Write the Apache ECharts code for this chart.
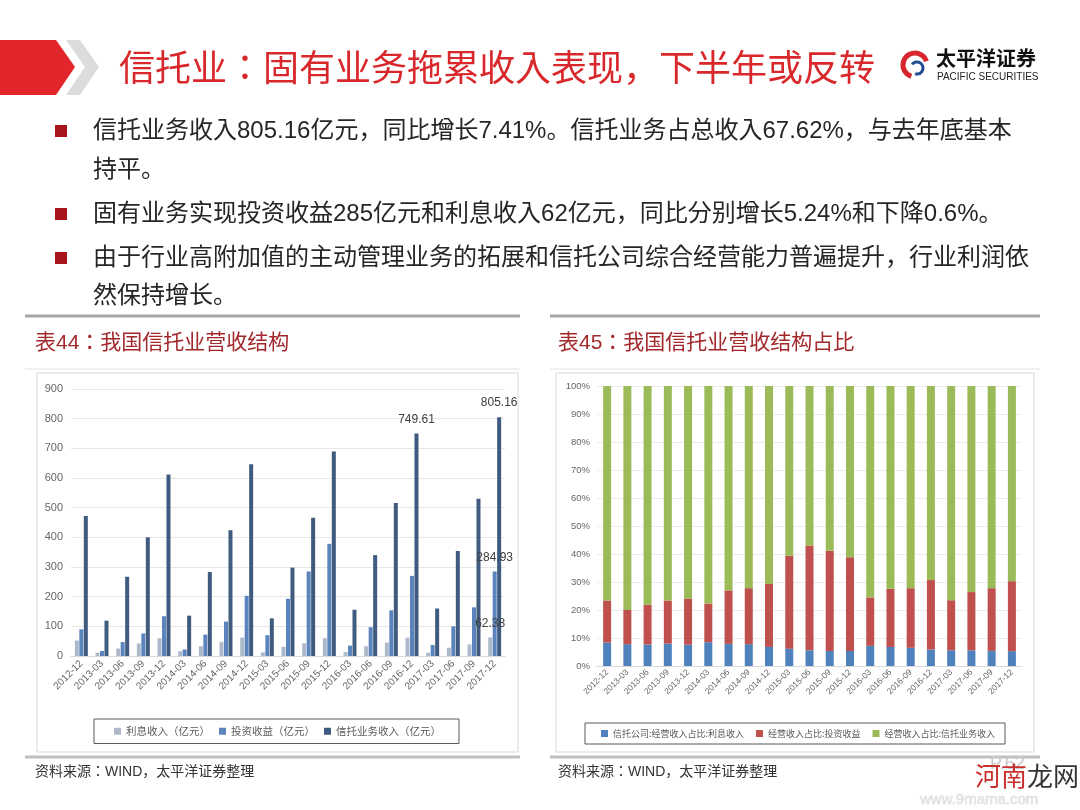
<!DOCTYPE html>
<html><head><meta charset="utf-8">
<script src="https://cdn.jsdelivr.net/npm/echarts@6/dist/echarts.min.js"></script>
<style>html,body{margin:0;padding:0;background:#fff;}#c{width:1080px;height:810px;}</style>
</head><body><div id="c"></div>
<script>
// ---- data ----
var categories = ['2012-12','2013-03','2013-06','2013-09','2013-12','2014-03','2014-06','2014-09','2014-12','2015-03','2015-06','2015-09','2015-12','2016-03','2016-06','2016-09','2016-12','2017-03','2017-06','2017-09','2017-12'];
var interestIncome = [52,11,25,42,60,16,33,48,62,12,31,43,60,13,33,45,62,11,28,39,62.38];
var investIncome = [90,17,47,76,134,22,72,116,203,70,193,285,378,35,97,154,270,37,100,164,284.93];
var trustIncome = [472,119,267,400,612,136,283,424,646,127,298,466,689,156,340,516,749.61,160,354,530,805.16];
var interestPct = [8.4,7.8,7.7,8.0,7.6,8.5,7.9,7.8,6.8,6.2,5.6,5.4,5.4,7.2,6.8,6.5,5.9,5.6,5.6,5.4,5.3];
var investPct = [15.0,12.2,14.2,15.4,16.5,13.8,19.1,20.0,22.5,33.2,37.4,35.8,33.4,17.3,20.8,21.3,24.8,17.9,20.8,22.4,25.0];
var trustPct = [76.6,80.0,78.1,76.6,75.9,77.7,73.0,72.2,70.7,60.6,57.0,58.8,61.2,75.5,72.4,72.2,69.3,76.5,73.6,72.2,69.7];
var labeledTrust = ['2016-12','2017-12'];
var labeledOther = ['2017-12'];
var leftNames = ['利息收入（亿元）','投资收益（亿元）','信托业务收入（亿元）'];
var rightNames = ['信托公司:经营收入占比:利息收入','经营收入占比:投资收益','经营收入占比:信托业务收入'];
var titleText = '信托业：固有业务拖累收入表现，下半年或反转';
var bulletLines = [
  ['信托业务收入805.16亿元，同比增长7.41%。信托业务占总收入67.62%，与去年底基本','持平。'],
  ['固有业务实现投资收益285亿元和利息收入62亿元，同比分别增长5.24%和下降0.6%。'],
  ['由于行业高附加值的主动管理业务的拓展和信托公司综合经营能力普遍提升，行业利润依','然保持增长。']
];
var chartTitles = ['表44：我国信托业营收结构','表45：我国信托业营收结构占比'];
var sourceText = '资料来源：WIND，太平洋证券整理';

var FF = "'Liberation Sans','Noto Sans CJK SC',sans-serif";
var CJK = "'Noto Sans CJK SC','Liberation Sans',sans-serif";
var JP = "'Liberation Sans','Noto Sans CJK JP',sans-serif";

function withLabels(arr, cats) {
  return arr.map(function(v, i){
    if (cats.indexOf(categories[i]) >= 0) {
      return {value: v, label: {show: true, position: 'top', distance: 8, color: '#404040', fontSize: 12, fontFamily: FF}};
    }
    return v;
  });
}

// ---- graphics ----
var g = [];
g.push({type:'polygon', shape:{points:[[0,40],[56,40],[75,67],[56,95],[0,95]]}, style:{fill:'#e3262b'}});
g.push({type:'polygon', shape:{points:[[66,40],[80,40],[99,67],[80,95],[66,95],[85,67]]}, style:{fill:'#dcdcdc'}});
g.push({type:'text', style:{text:titleText, x:119, y:67, font:'36px '+"'Noto Sans CJK JP',sans-serif", fill:'#d9282b', textVerticalAlign:'middle'}});
// logo
g.push({type:'arc', shape:{cx:915, cy:65, r:12, startAngle:Math.PI*0.6, endAngle:Math.PI*1.9}, style:{stroke:'#d7262d', lineWidth:5, fill:null}});
g.push({type:'arc', shape:{cx:917, cy:68, r:6, startAngle:Math.PI*1.2, endAngle:Math.PI*2.6}, style:{stroke:'#1e4b8f', lineWidth:3, fill:null}});
g.push({type:'text', style:{text:'太平洋证券', x:936, y:58, font:'bold 20px '+CJK, fill:'#111', textVerticalAlign:'middle'}});
g.push({type:'text', style:{text:'PACIFIC SECURITIES', x:937, y:77, font:'10px '+FF, fill:'#222', textVerticalAlign:'middle'}});
// bullets
var lineY = [[131,170],[214],[258,296]];
bulletLines.forEach(function(lines, bi){
  g.push({type:'rect', shape:{x:55, y:lineY[bi][0]-6, width:12, height:12}, style:{fill:'#a8151b'}});
  lines.forEach(function(t, li){
    g.push({type:'text', style:{text:t, x:93, y:lineY[bi][li], font:'24px '+JP, fill:'#262626', textVerticalAlign:'middle'}});
  });
});
// chart sections
var secs = [{x0:25,x1:520,tx:35,fx0:37,fx1:518},{x0:550,x1:1040,tx:558,fx0:556,fx1:1034}];
secs.forEach(function(s, i){
  g.push({type:'line', shape:{x1:s.x0,y1:316,x2:s.x1,y2:316}, style:{stroke:'#a6a6a6', lineWidth:3}});
  g.push({type:'line', shape:{x1:s.x0,y1:369,x2:s.x1,y2:369}, style:{stroke:'#e2e2e2', lineWidth:1}});
  g.push({type:'text', style:{text:chartTitles[i], x:s.tx, y:343, font:'21px '+JP, fill:'#a3282c', textVerticalAlign:'middle'}});
  g.push({type:'rect', z:-1, shape:{x:s.fx0, y:373, width:s.fx1-s.fx0, height:379}, style:{fill:'#fff', stroke:'#d9d9d9', lineWidth:1}});
  g.push({type:'line', shape:{x1:s.x0,y1:757,x2:s.x1,y2:757}, style:{stroke:'#bfbfbf', lineWidth:3}});
  g.push({type:'text', style:{text:sourceText, x:s.tx, y:772, font:'14px '+JP, fill:'#333', textVerticalAlign:'middle'}});
});
// page number & watermark
g.push({type:'text', style:{text:'P.62', x:990, y:764, font:'18px '+FF, fill:'#c8c8c8', textVerticalAlign:'middle'}});
g.push({type:'text', style:{text:'河南', x:975, y:776, font:'26px '+CJK, fill:'#c9302c', textVerticalAlign:'middle'}});
g.push({type:'text', style:{text:'龙网', x:1027, y:776, font:'26px '+CJK, fill:'#333', textVerticalAlign:'middle'}});
g.push({type:'text', style:{text:'www.9mama.com', x:920, y:800, font:'15px '+FF, fill:'#e6e6e6', stroke:'#cfcfcf', lineWidth:0.5, textVerticalAlign:'middle'}});

var chart = echarts.init(document.getElementById('c'), null, {renderer:'canvas'});
chart.setOption({
  animation:false,
  backgroundColor:'#fff',
  graphic:{elements:g},
  grid:[
    {left:71, right:575, top:389, bottom:154},
    {left:597, right:58, top:386, bottom:144}
  ],
  legend:[
    {data:leftNames, left:94, top:719, orient:'horizontal', borderColor:'#595959', borderWidth:1,
     padding:[7,18,7,20], itemGap:9, itemWidth:7, itemHeight:7, icon:'rect',
     textStyle:{fontSize:10.5, color:'#595959', fontFamily:CJK}},
    {data:rightNames, left:585, top:723, orient:'horizontal', borderColor:'#595959', borderWidth:1,
     padding:[6,10,6,16], itemGap:12, itemWidth:7, itemHeight:7, icon:'rect',
     textStyle:{fontSize:9, color:'#595959', fontFamily:CJK}}
  ],
  xAxis:[
    {type:'category', gridIndex:0, data:categories, axisTick:{show:false},
     axisLine:{lineStyle:{color:'#d9d9d9'}}, axisLabel:{rotate:45, interval:0, color:'#666', fontSize:10, fontFamily:FF, margin:6}},
    {type:'category', gridIndex:1, data:categories, axisTick:{show:false},
     axisLine:{lineStyle:{color:'#d9d9d9'}}, axisLabel:{rotate:45, interval:0, color:'#666', fontSize:8.5, fontFamily:FF, margin:5}}
  ],
  yAxis:[
    {type:'value', gridIndex:0, min:0, max:900, interval:100, axisLine:{show:false}, axisTick:{show:false},
     splitLine:{lineStyle:{color:'#e6e6e6'}}, axisLabel:{color:'#666', fontSize:11, fontFamily:FF}},
    {type:'value', gridIndex:1, min:0, max:100, interval:10, axisLine:{show:false}, axisTick:{show:false},
     splitLine:{lineStyle:{color:'#ececec'}}, axisLabel:{color:'#666', fontSize:9.5, fontFamily:FF, formatter:'{value}%', margin:7}}
  ],
  series:[
    {name:leftNames[0], type:'bar', xAxisIndex:0, yAxisIndex:0, barWidth:4, barGap:'12%', itemStyle:{color:'#adb9cb'}, data:withLabels(interestIncome, labeledOther)},
    {name:leftNames[1], type:'bar', xAxisIndex:0, yAxisIndex:0, barWidth:4, barGap:'12%', itemStyle:{color:'#5b84bd'}, data:withLabels(investIncome, labeledOther)},
    {name:leftNames[2], type:'bar', xAxisIndex:0, yAxisIndex:0, barWidth:4, barGap:'12%', itemStyle:{color:'#3f5b7f'}, data:withLabels(trustIncome, labeledTrust)},
    {name:rightNames[0], type:'bar', stack:'p', xAxisIndex:1, yAxisIndex:1, barWidth:8, itemStyle:{color:'#4f81bd'}, data:interestPct},
    {name:rightNames[1], type:'bar', stack:'p', xAxisIndex:1, yAxisIndex:1, barWidth:8, itemStyle:{color:'#c0504d'}, data:investPct},
    {name:rightNames[2], type:'bar', stack:'p', xAxisIndex:1, yAxisIndex:1, barWidth:8, itemStyle:{color:'#9bbb59'}, data:trustPct}
  ]
});
</script></body></html>
